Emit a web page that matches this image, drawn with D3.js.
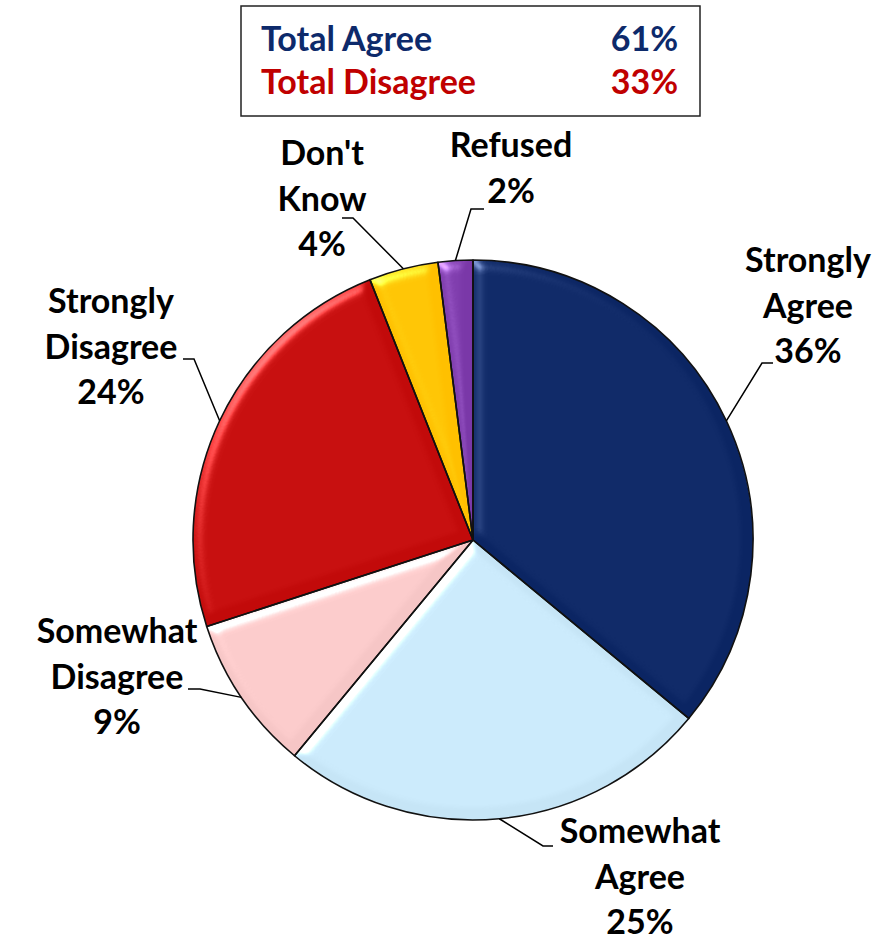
<!DOCTYPE html>
<html>
<head>
  <meta charset="utf-8">
  <title>Agree / Disagree pie</title>
  <script src="https://d3js.org/d3.v7.min.js"></script>
  <style>
    body { margin: 0; background: #fff; }
    text { font-family: Lato, "Noto Sans", sans-serif; font-weight: bold; }
  </style>
</head>
<body>
<svg id="chart" width="882" height="940"></svg>
<script>
// data
var categories = ['Strongly Agree', 'Somewhat Agree', 'Somewhat Disagree',
                  'Strongly Disagree', "Don't Know", 'Refused'];
var values = [36, 25, 9, 24, 4, 2];
var labelLines = [['Strongly', 'Agree'], ['Somewhat', 'Agree'], ['Somewhat', 'Disagree'],
                  ['Strongly', 'Disagree'], ["Don't", 'Know'], ['Refused']];
var totalLabels = ['Total Agree', 'Total Disagree'];
var totalGroups = [['Strongly Agree', 'Somewhat Agree'], ['Somewhat Disagree', 'Strongly Disagree']];

var colors = ['#0b2563', '#c6e5f6', '#f6c6c6', '#c20a0a', '#ffc000', '#7a38a8'];
var totalColors = ['#0d2a6b', '#c00000'];

// label layout: text centre x, first baseline y, elbow and end of leader line
var labelPos = [
  { x: 808, y: 272, elbow: [762, 363], end: [773, 363] },
  { x: 640, y: 843, elbow: [543, 846], end: [553, 846] },
  { x: 117, y: 643, elbow: [200, 689], end: [188, 689] },
  { x: 111, y: 313, elbow: [194, 359], end: [183, 359] },
  { x: 322, y: 165, elbow: [353, 218], end: [342, 218] },
  { x: 511, y: 157, elbow: [471, 209], end: [484, 209] }
];

var cx = 473, cy = 540, radius = 280, lineH = 45.5;

var svg = d3.select('#chart');

// soft bevel look
var defs = svg.append('defs');
var f = defs.append('filter').attr('id', 'bevel')
  .attr('color-interpolation-filters', 'sRGB')
  .attr('x', '-10%').attr('y', '-10%').attr('width', '120%').attr('height', '120%');
f.append('feGaussianBlur').attr('in', 'SourceAlpha').attr('stdDeviation', 6).attr('result', 'blur');
f.append('feSpecularLighting').attr('in', 'blur').attr('surfaceScale', 5)
  .attr('specularConstant', 1).attr('specularExponent', 25)
  .attr('lighting-color', '#ffffff').attr('result', 'spec')
  .append('feDistantLight').attr('azimuth', 225).attr('elevation', 35);
f.append('feComposite').attr('in', 'spec').attr('in2', 'SourceAlpha')
  .attr('operator', 'in').attr('result', 'specIn');
f.append('feComposite').attr('in', 'SourceGraphic').attr('in2', 'specIn')
  .attr('operator', 'arithmetic').attr('k1', 0).attr('k2', 1).attr('k3', 0.45).attr('k4', 0);

var pie = d3.pie().sort(null).value(function(d) { return d.value; });
var arc = d3.arc().innerRadius(0).outerRadius(radius);
var edgeArc = d3.arc().innerRadius(radius).outerRadius(radius);

var data = categories.map(function(c, i) { return { name: c, value: values[i] }; });
var arcs = pie(data);

var g = svg.append('g').attr('transform', 'translate(' + cx + ',' + cy + ')');

g.selectAll('path.slice')
  .data(arcs)
  .enter().append('path')
  .attr('class', 'slice')
  .attr('d', arc)
  .attr('fill', function(d, i) { return colors[i]; })
  .attr('filter', 'url(#bevel)');

g.selectAll('path.edge')
  .data(arcs)
  .enter().append('path')
  .attr('class', 'edge')
  .attr('d', arc)
  .attr('fill', 'none')
  .attr('stroke', '#111')
  .attr('stroke-width', 1.6)
  .attr('stroke-linejoin', 'round');

// leader lines
svg.selectAll('polyline.leader')
  .data(arcs)
  .enter().append('polyline')
  .attr('class', 'leader')
  .attr('points', function(d, i) {
    var c = edgeArc.centroid(d);
    var p = labelPos[i];
    return [[c[0] + cx, c[1] + cy], p.elbow, p.end].map(function(q) { return q.join(','); }).join(' ');
  })
  .attr('fill', 'none')
  .attr('stroke', '#000')
  .attr('stroke-width', 1.5);

// slice labels
var labels = svg.selectAll('text.label')
  .data(arcs)
  .enter().append('text')
  .attr('class', 'label')
  .attr('text-anchor', 'middle')
  .attr('font-size', 34)
  .attr('fill', '#000');

labels.each(function(d, i) {
  var t = d3.select(this);
  var lines = labelLines[i].concat([values[i] + '%']);
  lines.forEach(function(s, k) {
    t.append('tspan').attr('x', labelPos[i].x).attr('y', labelPos[i].y + k * lineH).text(s);
  });
});

// totals box
svg.append('rect')
  .attr('x', 241).attr('y', 6).attr('width', 459).attr('height', 110)
  .attr('fill', '#fff').attr('stroke', '#222').attr('stroke-width', 1.5);

var totals = totalGroups.map(function(grp) {
  return d3.sum(grp, function(n) { return values[categories.indexOf(n)]; });
});

var ty = d3.scalePoint().domain(totalLabels).range([51, 94]);

svg.selectAll('text.total')
  .data(totalLabels)
  .enter().append('text')
  .attr('class', 'total')
  .attr('x', 261)
  .attr('y', function(d) { return ty(d); })
  .attr('font-size', 34)
  .attr('fill', function(d, i) { return totalColors[i]; })
  .text(function(d) { return d; });

svg.selectAll('text.totalv')
  .data(totalLabels)
  .enter().append('text')
  .attr('class', 'totalv')
  .attr('x', 678)
  .attr('y', function(d) { return ty(d); })
  .attr('text-anchor', 'end')
  .attr('font-size', 34)
  .attr('fill', function(d, i) { return totalColors[i]; })
  .text(function(d, i) { return totals[i] + '%'; });
</script>
</body>
</html>
